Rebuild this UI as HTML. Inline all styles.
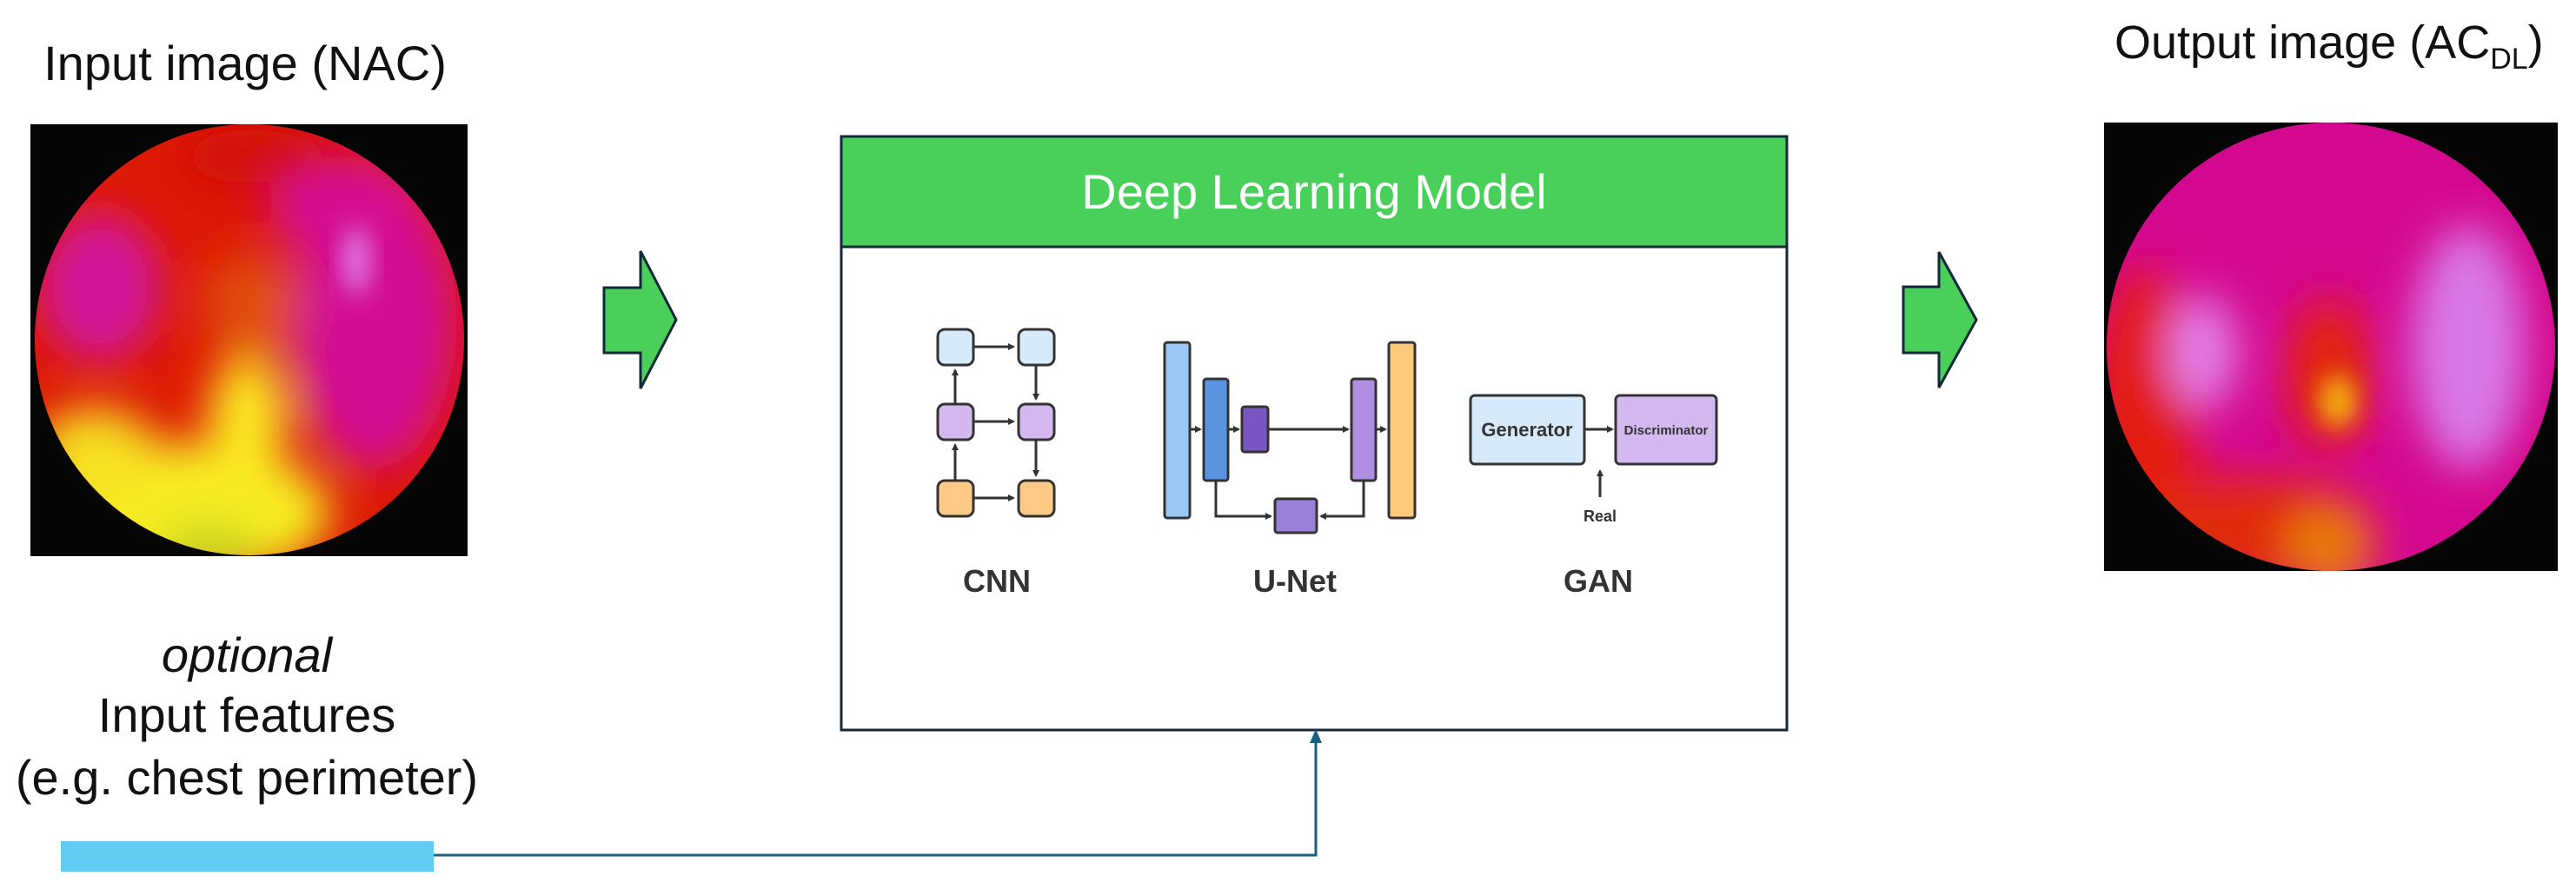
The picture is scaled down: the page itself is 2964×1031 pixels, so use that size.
<!DOCTYPE html>
<html><head><meta charset="utf-8"><style>
html,body{margin:0;padding:0;background:#fff;}
svg{display:block}
</style></head><body>
<svg width="2964" height="1031" viewBox="0 0 2964 1031" xmlns="http://www.w3.org/2000/svg" font-family="Liberation Sans, sans-serif">
<defs>
<filter id="b1" x="-50%" y="-50%" width="200%" height="200%"><feGaussianBlur stdDeviation="24"/></filter>
<filter id="b2" x="-50%" y="-50%" width="200%" height="200%"><feGaussianBlur stdDeviation="14"/></filter>
<clipPath id="c1"><ellipse cx="287" cy="391" rx="247" ry="248"/></clipPath>
<clipPath id="c2"><ellipse cx="2682" cy="399" rx="258" ry="258"/></clipPath>
<marker id="ah" markerWidth="8" markerHeight="8" refX="6" refY="4" orient="auto" markerUnits="userSpaceOnUse"><path d="M0,0 L8,4 L0,8 z" fill="#333"/></marker>
<marker id="ah2" markerWidth="18" markerHeight="18" refX="9" refY="9" orient="auto" markerUnits="userSpaceOnUse"><path d="M0,2 L16,9 L0,16 z" fill="#1a5f80"/></marker>
</defs>

<!-- Titles -->
<text x="282" y="92" font-size="56" text-anchor="middle" fill="#111">Input image (NAC)</text>
<text x="2433" y="67" font-size="54" fill="#111">Output image (AC<tspan font-size="34" dy="12">DL</tspan><tspan dy="-12">)</tspan></text>

<!-- Input image -->
<rect x="35" y="143" width="503" height="497" fill="#050505"/>
<g clip-path="url(#c1)">
<rect x="30" y="130" width="520" height="520" fill="#dd1a05"/>
<g filter="url(#b1)">
<ellipse cx="115" cy="330" rx="70" ry="85" fill="#d0149a"/>
<ellipse cx="430" cy="370" rx="95" ry="170" fill="#d20e92"/>
<ellipse cx="400" cy="240" rx="90" ry="60" fill="#d40a90"/>
<ellipse cx="290" cy="180" rx="80" ry="30" fill="#d01008"/>
<ellipse cx="290" cy="350" rx="55" ry="55" fill="#e05010"/>
<ellipse cx="210" cy="590" rx="170" ry="80" fill="#f7ec20"/>
<ellipse cx="110" cy="520" rx="70" ry="50" fill="#f6e020"/>
<ellipse cx="285" cy="480" rx="45" ry="70" fill="#fae820"/>
<ellipse cx="240" cy="630" rx="60" ry="30" fill="#c8d820"/>
</g>
<g filter="url(#b2)">
<ellipse cx="410" cy="300" rx="16" ry="40" fill="#e07ce8"/>
</g>
</g>

<!-- Output image -->
<rect x="2421" y="141" width="522" height="516" fill="#050505"/>
<g clip-path="url(#c2)">
<rect x="2410" y="130" width="540" height="540" fill="#d4088e"/>
<g filter="url(#b1)">
<ellipse cx="2470" cy="470" rx="60" ry="160" fill="#e21a10"/>
<ellipse cx="2590" cy="610" rx="140" ry="60" fill="#e02a0c"/>
<ellipse cx="2680" cy="630" rx="50" ry="50" fill="#e87a10"/>
<ellipse cx="2680" cy="430" rx="50" ry="85" fill="#e02008"/>
<ellipse cx="2535" cy="405" rx="40" ry="65" fill="#e27ee8"/>
<ellipse cx="2840" cy="400" rx="65" ry="140" fill="#d878e8"/>
</g>
<g filter="url(#b2)">
<ellipse cx="2690" cy="460" rx="22" ry="32" fill="#f0a010"/>
<ellipse cx="2690" cy="470" rx="10" ry="14" fill="#f8d018"/>
</g>
</g>

<!-- Green block arrows -->
<path d="M695,331 L737,331 L737,289 L778,368 L737,447 L737,406 L695,406 Z" fill="#48d05a" stroke="#13283a" stroke-width="3"/>
<path d="M2190,330 L2231,330 L2231,290 L2274,368 L2231,446 L2231,406 L2190,406 Z" fill="#48d05a" stroke="#13283a" stroke-width="3"/>

<!-- Deep learning box -->
<rect x="968" y="157" width="1088" height="683" fill="#fff" stroke="#13283a" stroke-width="3"/>
<rect x="968" y="157" width="1088" height="127" fill="#48d05a" stroke="#13283a" stroke-width="3"/>
<text x="1512" y="240" font-size="56" text-anchor="middle" fill="#fff">Deep Learning Model</text>

<!-- CNN -->
<g stroke="#333" stroke-width="3">
<rect x="1079" y="379" width="41" height="41" rx="8" fill="#d6eafa"/>
<rect x="1172" y="379" width="41" height="41" rx="8" fill="#d6eafa"/>
<rect x="1079" y="465" width="41" height="41" rx="8" fill="#d4b8f0"/>
<rect x="1172" y="465" width="41" height="41" rx="8" fill="#d4b8f0"/>
<rect x="1079" y="553" width="41" height="41" rx="8" fill="#fcca84"/>
<rect x="1172" y="553" width="41" height="41" rx="8" fill="#fcca84"/>
<line x1="1120" y1="399" x2="1166" y2="399" marker-end="url(#ah)"/>
<line x1="1120" y1="485" x2="1166" y2="485" marker-end="url(#ah)"/>
<line x1="1120" y1="573" x2="1166" y2="573" marker-end="url(#ah)"/>
<line x1="1099" y1="465" x2="1099" y2="426" marker-end="url(#ah)"/>
<line x1="1099" y1="553" x2="1099" y2="512" marker-end="url(#ah)"/>
<line x1="1192" y1="420" x2="1192" y2="459" marker-end="url(#ah)"/>
<line x1="1192" y1="506" x2="1192" y2="547" marker-end="url(#ah)"/>
</g>

<!-- U-Net -->
<g stroke="#333" stroke-width="3">
<rect x="1340" y="394" width="29" height="202" rx="3" fill="#9cc8f5"/>
<rect x="1385" y="436" width="28" height="117" rx="3" fill="#5b95e2"/>
<rect x="1429" y="468" width="30" height="52" rx="3" fill="#7a56c2"/>
<rect x="1555" y="436" width="28" height="117" rx="3" fill="#b08fe2"/>
<rect x="1598" y="394" width="30" height="202" rx="3" fill="#fcc87c"/>
<rect x="1467" y="574" width="48" height="39" rx="3" fill="#9a80d8"/>
<line x1="1369" y1="494" x2="1381" y2="494" marker-end="url(#ah)"/>
<line x1="1413" y1="494" x2="1425" y2="494" marker-end="url(#ah)"/>
<line x1="1459" y1="494" x2="1551" y2="494" marker-end="url(#ah)"/>
<line x1="1583" y1="494" x2="1594" y2="494" marker-end="url(#ah)"/>
<polyline points="1399,553 1399,594 1462,594" fill="none" marker-end="url(#ah)"/>
<polyline points="1569,553 1569,594 1520,594" fill="none" marker-end="url(#ah)"/>
</g>

<!-- GAN -->
<g stroke="#333" stroke-width="3">
<rect x="1692" y="455" width="131" height="79" rx="5" fill="#d6eafa"/>
<rect x="1859" y="455" width="116" height="79" rx="5" fill="#d4b8f0"/>
<line x1="1823" y1="494" x2="1855" y2="494" marker-end="url(#ah)"/>
<line x1="1841" y1="572" x2="1841" y2="542" marker-end="url(#ah)"/>
</g>
<text x="1757" y="502" font-size="22" font-weight="bold" text-anchor="middle" fill="#333">Generator</text>
<text x="1917" y="500" font-size="15" font-weight="bold" text-anchor="middle" fill="#333">Discriminator</text>
<text x="1841" y="600" font-size="18" font-weight="bold" text-anchor="middle" fill="#333">Real</text>

<text x="1147" y="681" font-size="36" font-weight="bold" text-anchor="middle" fill="#333">CNN</text>
<text x="1490" y="681" font-size="36" font-weight="bold" text-anchor="middle" fill="#333">U-Net</text>
<text x="1839" y="681" font-size="36" font-weight="bold" text-anchor="middle" fill="#333">GAN</text>

<!-- Optional features -->
<text x="284" y="773" font-size="56" font-style="italic" text-anchor="middle" fill="#111">optional</text>
<text x="284" y="842" font-size="56" text-anchor="middle" fill="#111">Input features</text>
<text x="284" y="914" font-size="56" text-anchor="middle" fill="#111">(e.g. chest perimeter)</text>

<rect x="70" y="968" width="429" height="35" fill="#62cbf2"/>
<polyline points="499,984 1514,984 1514,846" fill="none" stroke="#1a5f80" stroke-width="3" marker-end="url(#ah2)"/>
</svg>
</body></html>
